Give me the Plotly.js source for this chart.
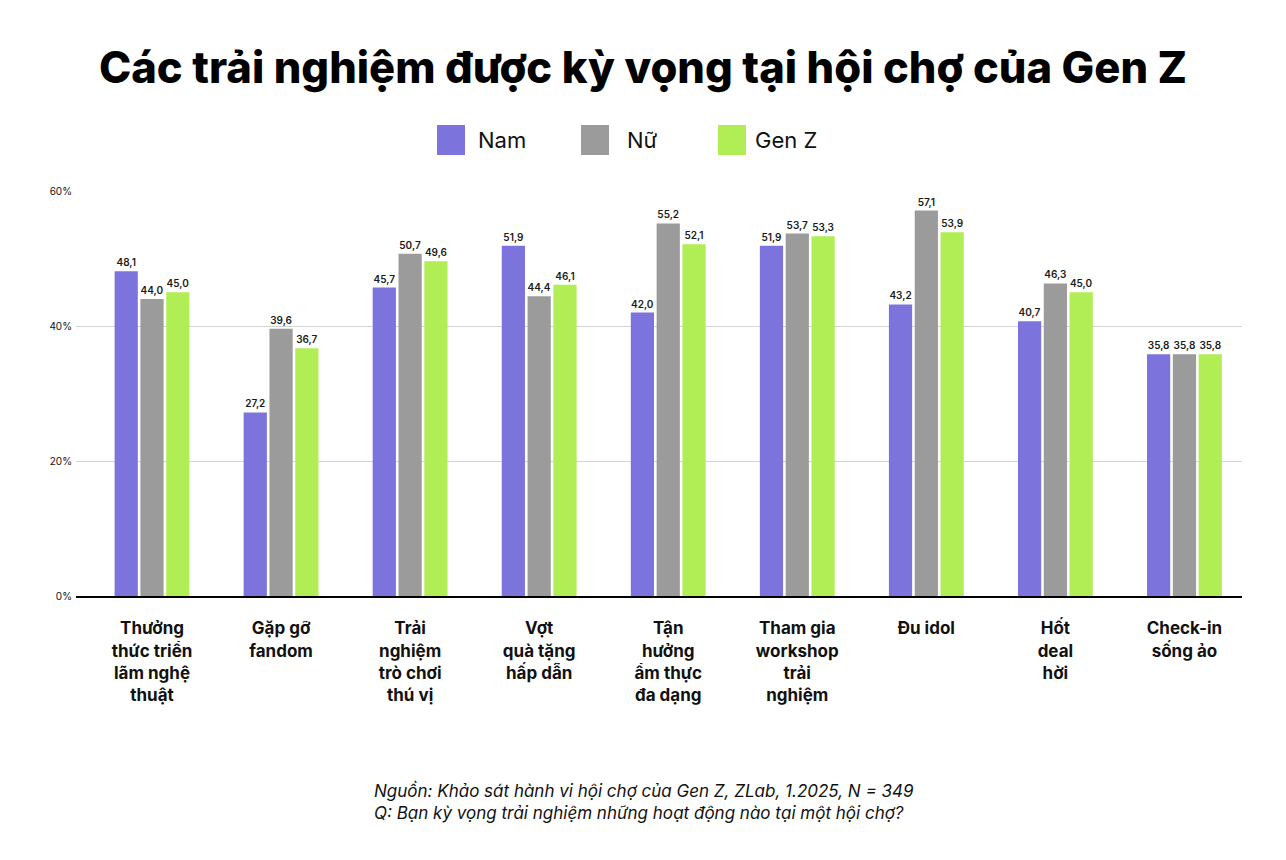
<!DOCTYPE html>
<html>
<head>
<meta charset="utf-8">
<script src="https://cdn.plot.ly/plotly-3.0.1.min.js"></script>
<style>
  body { margin: 0; background: #fff; }
  #plot { width: 1286px; height: 860px; }
</style>
</head>
<body>
<div id="plot"></div>
<script>
const categories = [
  'Thưởng<br>thức triển<br>lãm nghệ<br>thuật',
  'Gặp gỡ<br>fandom',
  'Trải<br>nghiệm<br>trò chơi<br>thú vị',
  'Vợt<br>quà tặng<br>hấp dẫn',
  'Tận<br>hưởng<br>ẩm thực<br>đa dạng',
  'Tham gia<br>workshop<br>trải<br>nghiệm',
  'Đu idol',
  'Hốt<br>deal<br>hời',
  'Check-in<br>sống ảo'
]
const namValues  = [48.1, 27.2, 45.7, 51.9, 42.0, 51.9, 43.2, 40.7, 35.8]
const nuValues   = [44.0, 39.6, 50.7, 44.4, 55.2, 53.7, 57.1, 46.3, 35.8]
const genzValues = [45.0, 36.7, 49.6, 46.1, 52.1, 53.3, 53.9, 45.0, 35.8]
const seriesNames = ['Nam', 'Nữ', 'Gen Z']
const seriesColors = ['#7c74dc', '#9b9b9b', '#b1ee55']
const yTicks = [0, 20, 40, 60]
const yTickText = ['0%', '20%', '40%', '60%']

const FONT = 'Inter, "Liberation Sans", sans-serif'

// plot area in pixels
const L = 76, R = 1242, T = 191, B = 596
const px = function (x) { return (x - L) / (R - L) }
const py = function (y) { return (B - y) / (B - T) }

const allValues = [namValues, nuValues, genzValues]
const data = allValues.map(function (vals, i) {
  return {
    type: 'bar',
    name: seriesNames[i],
    x: categories,
    y: vals,
    marker: {color: seriesColors[i], line: {width: 0}},
    texttemplate: '%{y:.1f}',
    textposition: 'outside',
    textfont: {family: FONT, size: 10, color: '#1a1a1a', weight: 600},
    cliponaxis: false,
    hoverinfo: 'skip'
  }
})

// custom legend: big squares + labels
const legendPos = [[437, 476], [581, 625], [718, 753]]
const shapes = []
const annotations = []
seriesNames.forEach(function (name, i) {
  shapes.push({
    type: 'rect', xref: 'paper', yref: 'paper',
    x0: px(legendPos[i][0]), x1: px(legendPos[i][0] + 28),
    y0: py(155), y1: py(125),
    fillcolor: seriesColors[i], line: {width: 0}
  })
  annotations.push({
    xref: 'paper', yref: 'paper',
    x: px(legendPos[i][1]), y: py(140),
    xanchor: 'left', yanchor: 'middle',
    text: name, showarrow: false,
    font: {family: FONT, size: 22, color: '#111'}
  })
})

annotations.push({
  xref: 'paper', yref: 'paper',
  x: px(372), y: py(801),
  xanchor: 'left', yanchor: 'middle', align: 'left',
  text: '<i>Nguồn: Khảo sát hành vi hội chợ của Gen Z, ZLab, 1.2025, N = 349</i><br>' +
        '<i>Q: Bạn kỳ vọng trải nghiệm những hoạt động nào tại một hội chợ?</i>',
  showarrow: false,
  font: {family: FONT, size: 17, color: '#111'}
})

const layout = {
  width: 1286,
  height: 860,
  margin: {l: L, r: 1286 - R, t: T, b: 860 - B},
  title: {
    text: 'Các trải nghiệm được kỳ vọng tại hội chợ của Gen Z',
    x: 0.5, xanchor: 'center',
    y: 1 - 68 / 860, yanchor: 'middle', yref: 'container',
    font: {family: FONT, size: 43.5, color: '#000', weight: 800}
  },
  separators: ',.',
  showlegend: false,
  barmode: 'group',
  bargap: 0.4,
  bargroupgap: 0.1,
  xaxis: {
    range: [-0.589, 8.446],
    showline: true,
    linecolor: '#000',
    linewidth: 2,
    ticks: '',
    tickangle: 0,
    ticklabelstandoff: 16,
    tickfont: {family: FONT, size: 17, color: '#111', weight: 700},
    fixedrange: true
  },
  yaxis: {
    range: [0, 60],
    tickmode: 'array',
    tickvals: yTicks,
    ticktext: yTickText,
    showgrid: true,
    gridcolor: '#d4d4d4',
    gridwidth: 1,
    zeroline: false,
    ticklabelstandoff: 3,
    tickfont: {family: FONT, size: 10, color: '#111'},
    fixedrange: true
  },
  shapes: shapes,
  annotations: annotations,
  paper_bgcolor: '#fff',
  plot_bgcolor: '#fff'
}

Plotly.newPlot('plot', data, layout, {displayModeBar: false, responsive: false})
</script>
</body>
</html>
